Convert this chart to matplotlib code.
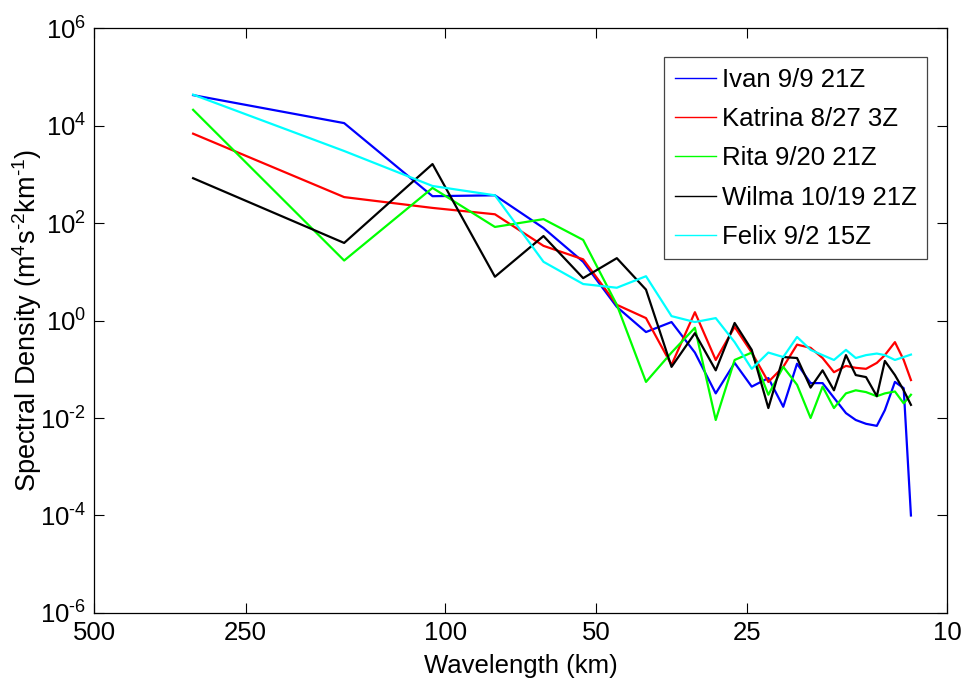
import numpy as np
import matplotlib
matplotlib.use('Agg')
import matplotlib.pyplot as plt

plt.rcParams['font.family'] = ['Liberation Sans', 'DejaVu Sans']
plt.rcParams['mathtext.fontset'] = 'custom'
plt.rcParams['mathtext.rm'] = 'Liberation Sans'
plt.rcParams['mathtext.default'] = 'regular'
plt.rcParams['axes.unicode_minus'] = False

# wavelength (km) of each spectral point
wavelength = [318, 159, 106, 79.6, 63.7, 53.1, 45.5, 39.8, 35.4, 31.8, 28.9, 26.5, 24.5, 22.7,
              21.2, 19.9, 18.7, 17.7, 16.8, 15.9, 15.2, 14.5, 13.8, 13.3, 12.7, 12.2, 11.8]

ivan = [4.2e4, 1.12e4, 355, 370, 79, 16, 1.9, 0.58, 0.93, 0.22, 0.032, 0.135, 0.044, 0.066,
        0.017, 0.13, 0.052, 0.052, 0.026, 0.0126, 0.0091, 0.0076, 0.0069, 0.0145, 0.055, 0.041, 1.0e-4]
katrina = [6.8e3, 340, 204, 151, 34, 18, 2.1, 1.12, 0.123, 1.48, 0.155, 0.74, 0.22, 0.055,
           0.112, 0.32, 0.275, 0.17, 0.087, 0.117, 0.107, 0.102, 0.135, 0.195, 0.36, 0.155, 0.06]
rita = [2.1e4, 17, 525, 83, 120, 45, 2.1, 0.055, 0.22, 0.71, 0.0091, 0.155, 0.22, 0.03,
        0.112, 0.048, 0.01, 0.044, 0.016, 0.032, 0.037, 0.034, 0.028, 0.032, 0.035, 0.02, 0.03]
wilma = [830, 39, 1620, 7.9, 54, 7.4, 19, 4.3, 0.112, 0.55, 0.095, 0.89, 0.25, 0.016,
         0.178, 0.17, 0.042, 0.095, 0.037, 0.195, 0.076, 0.069, 0.028, 0.148, 0.076, 0.037, 0.0186]
felix = [4.3e4, 3.0e3, 575, 370, 16, 5.6, 4.7, 8.1, 1.23, 0.93, 1.12, 0.36, 0.102, 0.22,
         0.178, 0.46, 0.25, 0.195, 0.155, 0.25, 0.17, 0.195, 0.21, 0.195, 0.155, 0.178, 0.2]

series = [
    (ivan, 'Ivan 9/9 21Z', '#0000ff'),
    (katrina, 'Katrina 8/27 3Z', '#ff0000'),
    (rita, 'Rita 9/20 21Z', '#00ff00'),
    (wilma, 'Wilma 10/19 21Z', '#000000'),
    (felix, 'Felix 9/2 15Z', '#00ffff'),
]

xticks = [500, 250, 100, 50, 25, 10]
yexps = [-6, -4, -2, 0, 2, 4, 6]

fig = plt.figure(figsize=(9.7, 6.9), dpi=100)
ax = fig.add_axes([0.0974, 0.1116, 0.8789, 0.8478])

for vals, name, col in series:
    ax.plot(wavelength, vals, color=col, linewidth=1.6, label=name)

ax.set_xscale('log')
ax.set_yscale('log')
ax.set_xlim(500, 10)
ax.set_ylim(1e-6, 1e6)
ax.set_xticks(xticks)
ax.set_xticklabels([str(t) for t in xticks])
ax.set_yticks([10.0 ** e for e in yexps])
ax.set_yticklabels([r'10$^{\text{%d}}$' % e for e in yexps])
ax.minorticks_off()
ax.tick_params(direction='in', length=7, width=0.8, top=True, right=True,
               labelsize=18.5, pad=6)
for sp in ax.spines.values():
    sp.set_linewidth(0.9)

ax.set_xlabel('Wavelength (km)', fontsize=18.5, labelpad=6)
ax.set_ylabel(r'Spectral Density (m$^{4}$s$^{\text{-2}}$km$^{\text{-1}}$)',
              fontsize=19.5, labelpad=-3)

leg = ax.legend(loc='upper right', bbox_to_anchor=(0.977, 0.95), borderaxespad=0,
                fontsize=18.5, fancybox=False, framealpha=1, edgecolor='#444444',
                handlelength=1.6, handletextpad=0.25, labelspacing=0.6,
                borderpad=0.4)
leg.get_frame().set_linewidth(0.9)
for line in leg.get_lines():
    line.set_linewidth(1.0)

fig.savefig('out.png', dpi=100)
